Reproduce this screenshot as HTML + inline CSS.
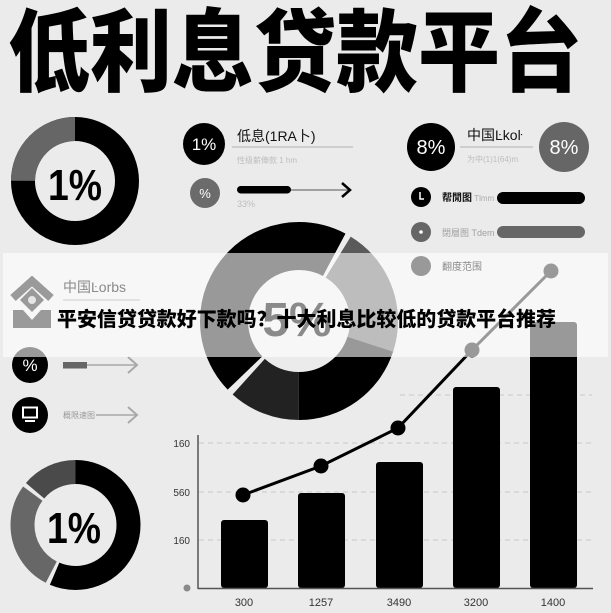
<!DOCTYPE html>
<html>
<head>
<meta charset="utf-8">
<style>
  html,body{margin:0;padding:0;background:#ebebeb;}
  svg{display:block;}
  .sans{font-family:"Liberation Sans","Noto Sans CJK SC",sans-serif;}
  .cjk{font-family:"Noto Sans CJK SC","WenQuanYi Zen Hei",sans-serif;}
</style>
</head>
<body>
<svg width="611" height="613" viewBox="0 0 611 613" xmlns="http://www.w3.org/2000/svg">
  <rect x="0" y="0" width="611" height="613" fill="#ebebeb"/>

  <!-- Title -->
  <text class="cjk" x="8" y="84" font-size="90" font-weight="900" fill="#000" textLength="574" lengthAdjust="spacingAndGlyphs">低利息贷款平台</text>

  <!-- Top-left donut -->
  <circle cx="75" cy="181" r="52" fill="none" stroke="#000" stroke-width="24"/>
  <circle cx="75" cy="181" r="52" fill="none" stroke="#666" stroke-width="24" stroke-dasharray="81.68 245.05" stroke-dashoffset="-245.05" transform="rotate(-90 75 181)"/>
  <text class="sans" x="48" y="200" font-size="44" font-weight="bold" fill="#000" textLength="54" lengthAdjust="spacingAndGlyphs">1%</text>

  <!-- Top middle row -->
  <circle cx="204" cy="144" r="21" fill="#000"/>
  <text class="sans" x="204" y="150" font-size="17" fill="#fff" text-anchor="middle">1%</text>
  <text class="sans" x="237" y="141" font-size="14" fill="#111">低息(1RA卜)</text>
  <line x1="232" y1="147" x2="353" y2="147" stroke="#b0b0b0" stroke-width="1"/>
  <text class="sans" x="237" y="163" font-size="8" fill="#bdbdbd">性级薪俸款 1 hm</text>

  <circle cx="205" cy="193" r="15" fill="#6b6b6b"/>
  <text class="sans" x="205" y="198" font-size="13" fill="#fff" text-anchor="middle">%</text>
  <line x1="290" y1="190" x2="348" y2="190" stroke="#888" stroke-width="1.5"/>
  <rect x="237" y="186" width="54" height="7.5" rx="3.7" fill="#000"/>
  <polyline points="342,183 350,190 342,197" fill="none" stroke="#000" stroke-width="2.5"/>
  <text class="sans" x="237" y="207" font-size="9" fill="#bdbdbd">33%</text>

  <!-- Top right -->
  <circle cx="431" cy="147" r="24" fill="#000"/>
  <text class="sans" x="431" y="154" font-size="20" fill="#fff" text-anchor="middle">8%</text>
  <text class="sans" x="467" y="140" font-size="14" fill="#111">中国Ŀkoŀ</text>
  <line x1="460" y1="147" x2="533" y2="147" stroke="#b0b0b0" stroke-width="1"/>
  <text class="sans" x="467" y="162" font-size="8" fill="#bdbdbd">为中(1)1(64)m</text>
  <circle cx="564" cy="147" r="25" fill="#666"/>
  <text class="sans" x="564" y="154" font-size="20" fill="#fff" text-anchor="middle">8%</text>

  <circle cx="421" cy="197" r="10" fill="#000"/>
  <path d="M420 192 L420 199 L424 199" fill="none" stroke="#fff" stroke-width="1.5"/>
  <text class="sans" x="442" y="201" font-size="10" font-weight="bold" fill="#111">帮閒图<tspan font-weight="normal" fill="#aaa" font-size="8"> Tlmm</tspan></text>
  <rect x="497" y="192" width="88" height="12" rx="6" fill="#000"/>

  <circle cx="421" cy="232" r="10" fill="#666"/>
  <circle cx="421" cy="232" r="1.8" fill="#fff"/>
  <text class="sans" x="442" y="236" font-size="9" fill="#a0a0a0">閉層图 Tdem</text>
  <rect x="497" y="226" width="88" height="12" rx="6" fill="#666"/>

  <circle cx="421" cy="266" r="10" fill="#000"/>

  <!-- Middle donut -->
  <circle cx="299" cy="321" r="75" fill="none" stroke="#000" stroke-width="48" stroke-dasharray="212.06 259.18" stroke-dashoffset="-295.83" transform="rotate(-90 299 321)"/>
  <circle cx="299" cy="321" r="75" fill="none" stroke="#5a5a5a" stroke-width="48" stroke-dasharray="100.14 371.1" stroke-dashoffset="-41.23" transform="rotate(-90 299 321)"/>
  <circle cx="299" cy="321" r="75" fill="none" stroke="#000" stroke-width="48" stroke-dasharray="94.25 376.99" stroke-dashoffset="-141.37" transform="rotate(-90 299 321)"/>
  <circle cx="299" cy="321" r="75" fill="none" stroke="#222" stroke-width="48" stroke-dasharray="54.98 416.26" stroke-dashoffset="-235.62" transform="rotate(-90 299 321)"/>

  <!-- Left middle icons -->
  <circle cx="30" cy="365" r="18" fill="#000"/>
  <text class="sans" x="30" y="371" font-size="17" fill="#fff" text-anchor="middle">%</text>
  <line x1="87" y1="365" x2="136" y2="365" stroke="#a8a8a8" stroke-width="1.5"/>
  <rect x="63" y="362" width="24" height="6.5" fill="#666"/>
  <polyline points="128,357 137,365 128,373" fill="none" stroke="#a8a8a8" stroke-width="2"/>

  <circle cx="30" cy="415" r="18" fill="#000"/>
  <rect x="23" y="407.5" width="14" height="10" fill="none" stroke="#fff" stroke-width="2"/>
  <line x1="25" y1="421" x2="35" y2="421" stroke="#fff" stroke-width="2"/>
  <text class="sans" x="63" y="418" font-size="8" fill="#9a9a9a">概限速图</text>
  <line x1="96" y1="415" x2="136" y2="415" stroke="#a8a8a8" stroke-width="1.5"/>
  <polyline points="128,407 137,415 128,423" fill="none" stroke="#a8a8a8" stroke-width="2"/>

  <!-- Bottom-left donut -->
  <circle cx="75.5" cy="525" r="53" fill="none" stroke="#000" stroke-width="24" stroke-dasharray="187.8 145.21" stroke-dashoffset="0" transform="rotate(-90 75.5 525)"/>
  <circle cx="75.5" cy="525" r="53" fill="none" stroke="#676767" stroke-width="24" stroke-dasharray="91.58 241.43" stroke-dashoffset="-191.48" transform="rotate(-90 75.5 525)"/>
  <circle cx="75.5" cy="525" r="53" fill="none" stroke="#4a4a4a" stroke-width="24" stroke-dasharray="46.25 286.76" stroke-dashoffset="-286.76" transform="rotate(-90 75.5 525)"/>
  <text class="sans" x="47" y="543" font-size="44" font-weight="bold" fill="#000" textLength="54" lengthAdjust="spacingAndGlyphs">1%</text>

  <!-- Chart gridlines -->
  <g stroke="#c9c9c9" stroke-width="1" stroke-dasharray="5 4">
    <line x1="400" y1="395" x2="592" y2="395"/>
    <line x1="199" y1="443" x2="592" y2="443"/>
    <line x1="199" y1="492" x2="592" y2="492"/>
    <line x1="199" y1="540" x2="592" y2="540"/>
  </g>
  <!-- Bars -->
  <g fill="#000">
    <rect x="221" y="520" width="47" height="68" rx="3"/>
    <rect x="298" y="493" width="47" height="95" rx="3"/>
    <rect x="376" y="462" width="47" height="126" rx="3"/>
    <rect x="453" y="387" width="47" height="201" rx="3"/>
    <rect x="530" y="322" width="47" height="266" rx="3"/>
  </g>
  <!-- Axes -->
  <line x1="198" y1="435" x2="198" y2="589" stroke="#555" stroke-width="1.5"/>
  <line x1="198" y1="588.5" x2="593" y2="588.5" stroke="#555" stroke-width="1.5"/>
  <circle cx="187" cy="588" r="3.5" fill="#8a8a8a"/>
  <g class="sans" font-size="10" fill="#333" text-anchor="end">
    <text x="190" y="447">160</text>
    <text x="190" y="496">560</text>
    <text x="190" y="544">160</text>
  </g>
  <g class="sans" font-size="11" fill="#333" text-anchor="middle">
    <text x="244" y="606">300</text>
    <text x="321" y="606">1257</text>
    <text x="399" y="606">3490</text>
    <text x="476" y="606">3200</text>
    <text x="553" y="606">1400</text>
  </g>
  <!-- Line series -->
  <polyline points="243,495 321,466 398,428 472,350 551,271" fill="none" stroke="#000" stroke-width="3"/>
  <g fill="#000">
    <circle cx="243" cy="495" r="7.5"/>
    <circle cx="321" cy="466" r="7.5"/>
    <circle cx="398" cy="428" r="7.5"/>
    <circle cx="472" cy="350" r="7.5"/>
    <circle cx="551" cy="271" r="7.5"/>
  </g>

  <!-- Band overlay -->
  <rect x="3" y="253" width="605" height="104" fill="#ffffff" fill-opacity="0.6"/>

  <!-- Elements on band -->
  <text class="sans" x="297" y="336" font-size="48" font-weight="bold" fill="#8a8a8a" text-anchor="middle">5%</text>
  <g fill="#9a9a9a">
    <polyline points="13,298 32,281 51,298" fill="none" stroke="#9a9a9a" stroke-width="8" stroke-linejoin="miter"/>
    <polygon points="32,288 44,300 32,312 20,300"/>
    <polygon points="13,310 23,310 32,320 41,310 51,310 51,328 13,328"/>
  </g>
  <circle cx="32" cy="300" r="4" fill="#e6e6e6"/>
  <text class="sans" x="63" y="292" font-size="14" fill="#8a8a8a">中国Ŀorbs</text>
  <line x1="63" y1="300" x2="140" y2="300" stroke="#dcdcdc" stroke-width="1.5"/>
  <text class="sans" x="442" y="270" font-size="10" fill="#8a8a8a">翻度范围</text>

  <text class="cjk" x="57" y="326" font-size="20" font-weight="900" fill="#000" textLength="499" lengthAdjust="spacingAndGlyphs">平安信贷贷款好下款吗？十大利息比较低的贷款平台推荐</text>
</svg>
</body>
</html>
